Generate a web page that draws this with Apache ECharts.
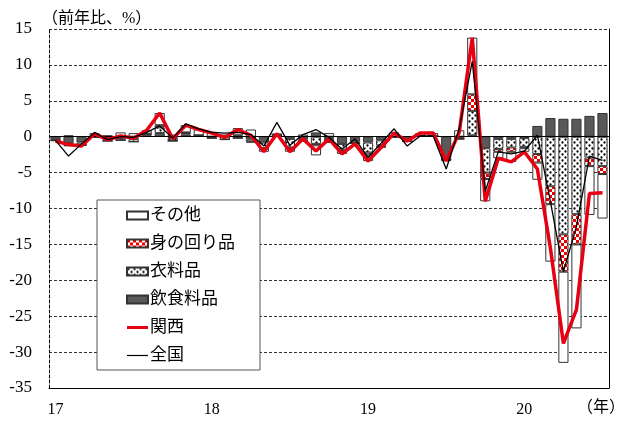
<!DOCTYPE html>
<html><head><meta charset="utf-8">
<script src="https://cdn.jsdelivr.net/npm/echarts@6/dist/echarts.min.js"></script>
<style>html,body{margin:0;padding:0;background:#fff}#c{width:624px;height:422px}</style>
</head><body><div id="c"></div>
<script>
// Categories: months Jan 2017 - Jul 2020
const months = [
 '17/01','17/02','17/03','17/04','17/05','17/06','17/07','17/08','17/09','17/10','17/11','17/12',
 '18/01','18/02','18/03','18/04','18/05','18/06','18/07','18/08','18/09','18/10','18/11','18/12',
 '19/01','19/02','19/03','19/04','19/05','19/06','19/07','19/08','19/09','19/10','19/11','19/12',
 '20/01','20/02','20/03','20/04','20/05','20/06','20/07'
];
const yearLabels = ['17','18','19','20'];

// contributions (percentage points)
const food = [
 -0.4,-0.9,-0.8,0.1,-0.3,-0.2,-0.3,0.2,0.5,-0.2,0.3,0.2,
 -0.1,0,0.2,-0.4,-0.8,0.3,-0.3,-0.4,0.6,-0.3,-1.0,-0.7,
 -0.8,-0.5,-0.1,-0.5,0.1,0.1,-3.0,-0.3,0.2,-1.6,-0.3,-0.3,
 -0.2,1.5,2.6,2.5,2.5,2.9,3.3
];
const clothing = [
 -0.1,-0.3,-0.3,-0.1,-0.3,-0.3,-0.4,0.2,0.8,-0.4,0.2,0,
 -0.1,-0.4,-0.2,-0.3,-0.8,0,-1.2,-0.2,-1.0,-0.5,-0.8,-0.2,
 -1.4,-0.7,0,-0.1,0,0,-0.2,0,3.4,-3.4,-1.4,-1.2,
 -1.2,-2.4,-6.9,-13.6,-10.8,-2.9,-4.1
];
const personal = [
 0,-0.1,0,0,0,0,0,0,0.3,0,0.1,0,
 0,0,0,-0.1,-0.1,0,-0.1,0,-0.2,0,-0.2,0,
 -0.3,-0.2,0,0,0,0,0,0,2.3,-0.9,-0.4,-0.6,
 -0.2,-1.2,-2.5,-5.2,-4.2,-1.2,-1.1
];
const other = [
 -0.1,0.2,-0.2,0.4,0.2,0.6,0.5,0.5,1.7,0.3,1.0,0.8,
 0.7,0.3,1.0,1.0,-0.4,0.1,-0.5,0.3,-1.4,0.5,-0.4,-0.1,
 -0.9,-0.1,0.6,0,0.4,0.4,-0.2,0.9,7.9,-3.1,-0.9,-1.4,
 -0.5,-2.4,-8.0,-12.7,-11.7,-6.8,-6.2
];
// year-on-year rates (%)
const kansai = [
 -0.6,-1.1,-1.3,0.4,-0.4,0.1,-0.2,0.9,3.3,-0.3,1.6,1.0,
 0.5,-0.1,1.0,0.2,-2.1,0.4,-2.1,-0.3,-2.0,-0.3,-2.4,-1.0,
 -3.4,-1.5,0.5,-0.6,0.5,0.5,-3.4,0.6,13.8,-9.0,-3.0,-3.5,
 -2.1,-4.5,-15.5,-28.8,-24.1,-7.9,-7.8
];
const zenkoku = [
 -0.5,-2.7,-1.0,0.6,-0.4,0.0,-0.1,0.6,1.5,-0.2,1.8,1.1,
 0.6,0.5,0.6,0.3,-1.3,2.0,-1.2,0.3,1.0,-0.1,-1.7,-0.3,
 -2.9,-0.9,1.1,-1.3,0.1,0.1,-4.5,1.1,10.5,-7.6,-2.1,-2.4,
 -2.0,0.2,-9.0,-18.8,-12.5,-2.7,-3.3
];

function checker(){
  const c=document.createElement('canvas'); c.width=6; c.height=6;
  const g=c.getContext('2d');
  g.fillStyle='#fff'; g.fillRect(0,0,6,6);
  g.fillStyle='#ee0000'; g.fillRect(0,0,3,3); g.fillRect(3,3,3,3);
  return c;
}
function dots(){
  const c=document.createElement('canvas'); c.width=6; c.height=6;
  const g=c.getContext('2d');
  g.fillStyle='#fff'; g.fillRect(0,0,6,6);
  g.fillStyle='#000';
  g.beginPath(); g.arc(1.5,1.5,1.15,0,Math.PI*2); g.fill();
  g.beginPath(); g.arc(4.5,4.5,1.15,0,Math.PI*2); g.fill();
  return c;
}

const serif = "'Liberation Serif','Noto Sans CJK JP'";
const chart = echarts.init(document.getElementById('c'), null, {renderer:'canvas'});
const barBase = {type:'bar', stack:'total', barCategoryGap:'22%', animation:false};
chart.setOption({
  animation:false,
  grid:{left:49, right:15, top:29, bottom:34},
  legend:{
    orient:'vertical', left:97, top:200,
    padding:[7,25,6,29], itemGap:11, itemWidth:21, itemHeight:8,
    backgroundColor:'#fff', borderColor:'#555', borderWidth:1, borderRadius:0,
    textStyle:{fontFamily:serif, fontSize:17, color:'#000', padding:[0,0,0,-3]},
    data:[
      {name:'その他', icon:'rect'},
      {name:'身の回り品', icon:'rect'},
      {name:'衣料品', icon:'rect'},
      {name:'飲食料品', icon:'rect'},
      {name:'関西', icon:'path://M0,0L21,0L21,3L0,3Z'},
      {name:'全国', icon:'path://M0,0L21,0L21,1.2L0,1.2Z'}]
  },
  xAxis:{
    type:'category', data:months, boundaryGap:true,
    axisLine:{onZero:false, lineStyle:{color:'#000', width:1}},
    axisTick:{show:false},
    axisLabel:{interval:0, margin:14, fontFamily:serif, fontSize:16, color:'#000',
      formatter:(v,i)=> i%12===0 ? yearLabels[i/12] : ''}
  },
  yAxis:[{
    type:'value', min:-35, max:15, interval:5,
    axisLine:{show:true, lineStyle:{color:'#000', type:[3,2]}},
    axisTick:{show:false},
    axisLabel:{fontFamily:serif, fontSize:17, color:'#000', margin:17},
    splitLine:{lineStyle:{color:'#333', type:[3,2], width:1}}
  },{
    type:'value', min:-35, max:15, interval:5, position:'right',
    axisLine:{show:true, lineStyle:{color:'#000'}},
    axisTick:{show:false}, axisLabel:{show:false}, splitLine:{show:false}
  }],
  graphic:[
    {type:'text', left:42, top:11, style:{text:'（前年比、%）', font:"16px "+serif, fill:'#000'}},
    {type:'text', left:577, top:400, style:{text:'（年）', font:"16px "+serif, fill:'#000'}}
  ],
  series:[
    Object.assign({}, barBase, {name:'飲食料品', data:food,
      itemStyle:{color:'#595959', borderColor:'#333', borderWidth:1},
      markLine:{silent:true, symbol:'none', animation:false, label:{show:false},
        lineStyle:{color:'#000', type:'solid', width:1}, data:[{yAxis:0}]}}),
    Object.assign({}, barBase, {name:'衣料品', data:clothing,
      itemStyle:{color:{image:dots(), repeat:'repeat'}, borderColor:'#333', borderWidth:1}}),
    Object.assign({}, barBase, {name:'身の回り品', data:personal,
      itemStyle:{color:{image:checker(), repeat:'repeat'}, borderColor:'#333', borderWidth:1}}),
    Object.assign({}, barBase, {name:'その他', data:other,
      itemStyle:{color:'#fff', borderColor:'#333', borderWidth:1}}),
    {type:'line', name:'関西', data:kansai, symbol:'none', animation:false, z:5,
      lineStyle:{color:'#e60012', width:3.5}, itemStyle:{color:'#e60012'}},
    {type:'line', name:'全国', data:zenkoku, symbol:'none', animation:false, z:6,
      lineStyle:{color:'#000', width:1.3}, itemStyle:{color:'#000'}}
  ]
});
</script>
</body></html>
